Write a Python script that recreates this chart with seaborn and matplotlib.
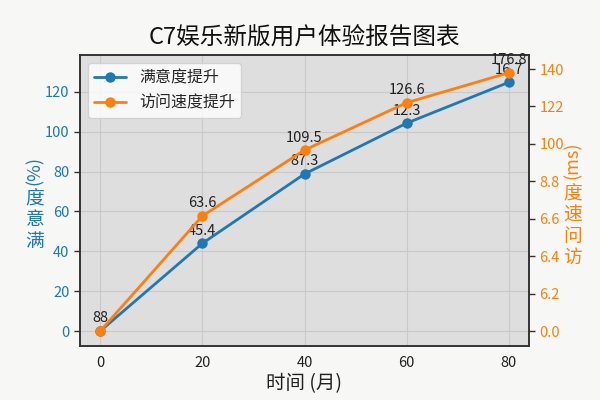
import matplotlib
matplotlib.use("Agg")
import matplotlib.pyplot as plt
import seaborn as sns
import pandas as pd

# 数据
meses = [0, 20, 40, 60, 80]
satisfaccion = [0, 44, 78.8, 104.3, 124.8]
velocidad = [0, 61.5, 96.7, 122, 138]
etiquetas_satisfaccion = ["88", "45.4", "87.3", "12.3", "16.7"]
etiquetas_velocidad = ["", "63.6", "109.5", "126.6", "176.8"]
ticks_derecha = [0, 20, 40, 60, 80, 100, 120, 140]
etiquetas_derecha = ["0.0", "6.2", "6.4", "6.6", "8.8", "100", "122", "140"]

azul = "#1f77b4"
naranja = "#ff7f0e"

sns.set_style("whitegrid")
plt.rcParams['font.family'] = ['Noto Sans CJK SC', 'DejaVu Sans']
plt.rcParams['axes.unicode_minus'] = False

df = pd.DataFrame({'mes': meses, 'satisfaccion': satisfaccion, 'velocidad': velocidad})

fig = plt.figure(figsize=(6, 4), dpi=100, facecolor='#f7f7f5')
ax = fig.add_axes([0.133, 0.135, 0.749, 0.7275])
ax.set_facecolor('#dedede')
ax2 = ax.twinx()

sns.lineplot(data=df, x='mes', y='satisfaccion', ax=ax, color=azul, marker='o',
             markersize=7.5, markeredgewidth=0, linewidth=2, label='满意度提升', legend=False)
sns.lineplot(data=df, x='mes', y='velocidad', ax=ax2, color=naranja, marker='o',
             markersize=7.5, markeredgewidth=0, linewidth=2, label='访问速度提升', legend=False)

# Etiquetas de los puntos
for x, y, t in zip(meses, satisfaccion, etiquetas_satisfaccion):
    ax.annotate(t, (x, y), xytext=(0, 4), textcoords='offset points',
                ha='center', va='bottom', fontsize=10.5, color='#222222')
for x, y, t in zip(meses, velocidad, etiquetas_velocidad):
    if t:
        ax2.annotate(t, (x, y), xytext=(0, 4), textcoords='offset points',
                     ha='center', va='bottom', fontsize=10.5, color='#222222')

ax.set_xlim(-4, 84)
ax.set_ylim(-7.5, 138.5)
ax2.set_ylim(-8, 147.5)
ax.set_xticks(meses)
ax.set_yticks([0, 20, 40, 60, 80, 100, 120])
ax2.set_yticks(ticks_derecha)
ax2.set_yticklabels(etiquetas_derecha)

ax.grid(True, color='#c9c9c9', linewidth=0.8)
ax2.grid(False)
for a in (ax, ax2):
    for s in a.spines.values():
        s.set_color('#333333')
        s.set_linewidth(1.2)
ax.tick_params(axis='y', colors='#333333', labelcolor=azul, labelsize=10.5, length=4, width=1)
ax.tick_params(axis='x', colors='#333333', labelcolor='#222222', labelsize=10.5, length=4, width=1)
ax2.tick_params(axis='y', colors='#333333', labelcolor=naranja, labelsize=10.5, length=4, width=1)

ax.set_xlabel('时间 (月)', fontsize=14, color='#222222', labelpad=2)
ax.set_ylabel('')
ax2.set_ylabel('')

# Títulos de ejes verticales
fig.text(0.058, 0.575, '(%)', rotation=90, ha='center', va='center', fontsize=13, color=azul)
fig.text(0.058, 0.45, '度\n意\n满', ha='center', va='center', fontsize=13.5, color=azul, linespacing=1.0)
fig.text(0.955, 0.6, '(ms)', rotation=90, ha='center', va='center', fontsize=13, color=naranja)
fig.text(0.955, 0.435, '度\n速\n问\n访', ha='center', va='center', fontsize=13.5, color=naranja, linespacing=1.0)

ax.set_title('C7娱乐新版用户体验报告图表', fontsize=17, color='#111111', pad=8)

h1, l1 = ax.get_legend_handles_labels()
h2, l2 = ax2.get_legend_handles_labels()
ax2.legend(h1 + h2, l1 + l2, loc='upper left', fontsize=11.5, frameon=True,
           facecolor='white', edgecolor='#cccccc', framealpha=0.8)

plt.savefig('out.png', dpi=100, facecolor=fig.get_facecolor())
